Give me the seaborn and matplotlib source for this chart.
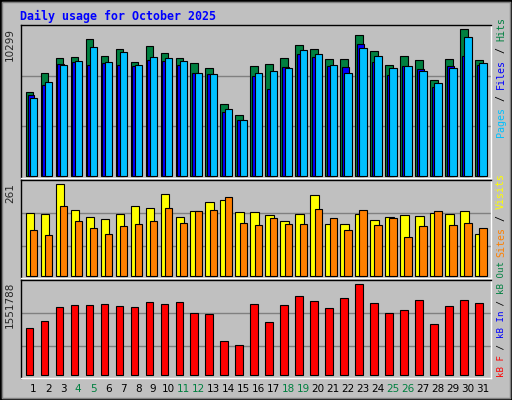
import numpy as np
import matplotlib
matplotlib.use("Agg")
import matplotlib.pyplot as plt
import seaborn as sns

sns.set_style("white")

days = list(range(1, 32))
weekend = [4, 5, 11, 12, 18, 19, 25, 26]
hits = [5876, 7210, 8263, 8334, 9598, 8404, 8896, 7983, 9106, 8615, 8263, 7912, 7561, 5033, 4260, 7702,
        7842, 8263, 9176, 8896, 8193, 8193, 9902, 8755, 7772, 8404, 8123, 6718, 8193, 10299, 8123]
files = [5665, 6391, 7842, 7983, 7795, 7912, 7795, 7678, 8146, 8029, 7795, 7210, 7163, 4494, 3933, 7023,
         6110, 7631, 8568, 8334, 7678, 7655, 9270, 7959, 7093, 7725, 7491, 6250, 7702, 8427, 7795]
pages = [5454, 6578, 7772, 8076, 9036, 7983, 8685, 7772, 8334, 8263, 8053, 7210, 7140, 4682, 3909, 7210,
         7374, 7561, 8826, 8545, 7772, 7210, 8966, 8404, 7561, 7702, 7374, 6508, 7561, 9738, 7912]
visits = [178, 176, 261, 187, 167, 161, 176, 198, 193, 233, 167, 184, 210, 215, 181, 181,
          173, 156, 176, 230, 147, 147, 176, 158, 167, 173, 170, 178, 176, 184, 119]
sites = [130, 116, 198, 156, 136, 119, 141, 147, 156, 193, 150, 184, 187, 224, 150, 144,
         164, 147, 147, 190, 164, 130, 187, 144, 164, 110, 141, 184, 144, 150, 136]
kbytes = [807000, 925000, 1162000, 1196000, 1196000, 1213000, 1179000, 1162000, 1247000, 1213000, 1247000,
          1061000, 1044000, 587000, 519000, 1213000, 909000, 1196000, 1349000, 1264000, 1146000, 1315000,
          1551788, 1230000, 1061000, 1112000, 1281000, 875000, 1179000, 1281000, 1230000]

BG = "#C0C0C0"
GREEN = "#008040"
W, H = 512, 400
fig = plt.figure(figsize=(5.12, 4.0), dpi=100, facecolor=BG)
plt.rcParams["font.family"] = ["DejaVu Sans Mono"]

# outer border
fig.patches.append(plt.Rectangle((0, 0), 1, 1, transform=fig.transFigure, fill=False,
                                 edgecolor="black", lw=2))
fig.patches.append(plt.Rectangle((2 / W, 2 / H), 1 - 4 / W, 1 - 4 / H, transform=fig.transFigure,
                                 fill=False, edgecolor="#808080", lw=1))

d = np.array(days)


def make_ax(top, bottom):
    ax = fig.add_axes([20.5 / W, 1 - bottom / H, 470.5 / W, (bottom - top) / H])
    ax.set_facecolor(BG)
    ax.set_xlim(0.153, 31.53)
    ax.set_xticks([])
    ax.set_yticks([])
    for s in ax.spines.values():
        s.set_color("black")
        s.set_linewidth(1)
    ax.spines["right"].set_color("white")
    ax.spines["bottom"].set_color("white")
    return ax


def grid(ax, vmax, fracs):
    for f in fracs:
        ax.axhline(vmax * f, color="#808080", lw=1, zorder=0)


# Hits / Files / Pages
ax1 = make_ax(25, 178)
ax1.set_ylim(-2 / 147 * 10299, 10299 * 151 / 147)
grid(ax1, 10299, [50 / 147, 100 / 147])
ax1.bar(d - 0.51, hits, width=0.49, align="edge", color=GREEN, edgecolor="black", lw=0.8, zorder=2)
ax1.bar(d - 0.38, files, width=0.45, align="edge", color="#0000FF", edgecolor="black", lw=0.8, zorder=3)
ax1.bar(d - 0.24, pages, width=0.49, align="edge", color="#00C0FF", edgecolor="black", lw=0.8, zorder=4)

# Visits / Sites
ax2 = make_ax(180, 278)
ax2.set_ylim(-2 / 92 * 261, 261 * 96 / 92)
grid(ax2, 261, [30 / 92, 63 / 92])
ax2.bar(d - 0.51, visits, width=0.55, align="edge", color="#FFFF00", edgecolor="black", lw=0.8, zorder=2)
ax2.bar(d - 0.24, sites, width=0.49, align="edge", color="#FF8000", edgecolor="black", lw=0.8, zorder=3)

# kB
ax3 = make_ax(280, 378)
ax3.set_ylim(-3 / 91 * 1551788, 1551788 * 95 / 91)
grid(ax3, 1551788, [29 / 91, 62 / 91])
ax3.bar(d - 0.51, kbytes, width=0.49, align="edge", color="#FF0000", edgecolor="black", lw=0.8, zorder=2)

# title
fig.text(20 / W, 1 - 16 / H, "Daily usage for October 2025", color="#0000FF", fontsize=8.4,
         fontweight="bold", va="center", ha="left")

# max labels on the left
for ytop, lab in [(28, "10299"), (183, "261"), (282, "1551788")]:
    fig.text(10 / W, 1 - ytop / H, lab, rotation=90, fontsize=7.5, va="top", ha="center",
             family="DejaVu Sans")

renderer = fig.canvas.get_renderer()


# right-side legends, stacked from bottom up, measured with the renderer
def right_legend(ybottom, parts, size=7.2):
    y = ybottom
    for txt, col in parts:
        t = fig.text(501 / W, 1 - y / H, txt.replace(" ", "\u00a0"), rotation=90, color=col,
                     fontsize=size, va="bottom", ha="center")
        y -= t.get_window_extent(renderer).height


right_legend(137, [("Pages", "#00C0FF"), (" / ", "black"), ("Files", "#0000FF"),
                   (" / ", "black"), ("Hits", GREEN)])
right_legend(257, [("Sites", "#FF8000"), (" / ", "black"), ("Visits", "#FFFF00")])
right_legend(377, [("kB F", "#FF0000"), (" / ", "black"), ("kB In", "#0000FF"),
                   (" / ", "black"), ("kB Out", GREEN)], size=6.6)

# day labels
for day in days:
    x = (20.5 + (day - 0.153) / (31.53 - 0.153) * 470.5) / W
    fig.text(x, 1 - 389 / H, str(day), color=GREEN if day in weekend else "black",
             fontsize=7.5, ha="center", va="center", family="DejaVu Sans")

fig.savefig("out.png", dpi=100, facecolor=BG)
